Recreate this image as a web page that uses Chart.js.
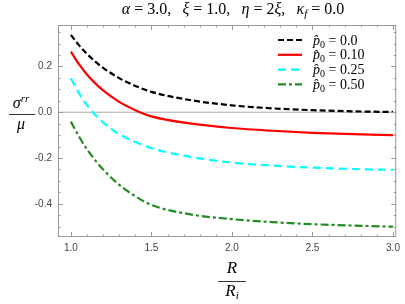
<!DOCTYPE html>
<html>
<head>
<meta charset="utf-8">
<script src="https://cdn.jsdelivr.net/npm/chart.js@4.4.1/dist/chart.umd.min.js"></script>
<style>
  body { margin: 0; background: #fff; }
  canvas { display: block; }
</style>
</head>
<body>
<canvas id="chart" width="405" height="304"></canvas>
<script>
// data
const radius = [1.0, 1.05, 1.1, 1.15, 1.2, 1.3, 1.4, 1.5, 1.75, 2.0, 2.25, 2.5, 2.75, 3.0];
const sigmaP000 = [0.338, 0.293, 0.255, 0.222, 0.194, 0.149, 0.115, 0.089, 0.052, 0.030, 0.017, 0.009, 0.004, 0.001];
const sigmaP010 = [0.265, 0.210, 0.165, 0.127, 0.095, 0.045, 0.009, -0.018, -0.050, -0.069, -0.081, -0.090, -0.096, -0.100];
const sigmaP025 = [0.148, 0.083, 0.031, -0.011, -0.045, -0.096, -0.130, -0.157, -0.196, -0.220, -0.233, -0.242, -0.248, -0.252];
const sigmaP050 = [-0.041, -0.106, -0.162, -0.209, -0.250, -0.317, -0.367, -0.405, -0.447, -0.467, -0.480, -0.489, -0.495, -0.500];
const legendValues = ['0.0', '0.10', '0.25', '0.50'];

const xTicks = [1.0, 1.5, 2.0, 2.5, 3.0];
const xTickLabels = ['1.0', '1.5', '2.0', '2.5', '3.0'];
const xMinorStep = 0.1;
const yTicks = [-0.4, -0.2, 0.0, 0.2];
const yTickLabels = ['-0.4', '-0.2', '0.0', '0.2'];
const yMinorStep = 0.05;

const SERIF = '"Liberation Serif", "DejaVu Serif", serif';

function pts(ys) {
    return radius.map((r, i) => ({ x: r, y: ys[i] }));
}

function series(label, ys, color, dash) {
    return {
        label: label,
        data: pts(ys),
        borderColor: color,
        borderWidth: 2.2,
        borderDash: dash,
        pointRadius: 0,
        fill: false,
        cubicInterpolationMode: 'monotone'
    };
}

// draw a run of text pieces with their own fonts and vertical shifts
function rich(ctx, parts, x, y, align) {
    let w = 0;
    parts.forEach(p => { ctx.font = p.f; w += ctx.measureText(p.t).width; });
    let cx = align === 'center' ? x - w / 2 : x;
    ctx.textAlign = 'left';
    ctx.textBaseline = 'alphabetic';
    parts.forEach(p => {
        ctx.font = p.f;
        ctx.fillText(p.t, cx, y + (p.dy || 0));
        cx += ctx.measureText(p.t).width;
    });
    return w;
}

const it = s => 'italic ' + s + 'px ' + SERIF;
const rm = s => s + 'px ' + SERIF;

const decor = {
    id: 'decor',
    beforeDatasetsDraw(chart) {
        const { ctx, chartArea: a, scales } = chart;
        const y0 = scales.y.getPixelForValue(0);
        ctx.save();
        ctx.strokeStyle = '#a8a8a8';
        ctx.lineWidth = 1;
        ctx.beginPath();
        ctx.moveTo(a.left, y0);
        ctx.lineTo(a.right, y0);
        ctx.stroke();
        ctx.restore();
    },
    afterDatasetsDraw(chart) {
        const { ctx, chartArea: a, scales } = chart;
        const xs = scales.x, ys = scales.y;
        ctx.save();

        // frame
        ctx.strokeStyle = '#999';
        ctx.lineWidth = 1;
        ctx.strokeRect(a.left + 0.5, a.top + 0.5, a.right - a.left - 1, a.bottom - a.top - 1);

        // inward ticks on all four sides
        ctx.beginPath();
        for (let v = 0.9; v <= xs.max + 1e-9; v += xMinorStep) {
            if (v < xs.min) continue;
            const major = xTicks.some(t => Math.abs(t - v) < 1e-6);
            const len = major ? 5 : 2.5;
            const px = Math.round(xs.getPixelForValue(v)) + 0.5;
            ctx.moveTo(px, a.bottom); ctx.lineTo(px, a.bottom - len);
            ctx.moveTo(px, a.top); ctx.lineTo(px, a.top + len);
        }
        for (let v = -0.55; v <= ys.max + 1e-9; v += yMinorStep) {
            if (v < ys.min) continue;
            const major = yTicks.some(t => Math.abs(t - v) < 1e-6);
            const len = major ? 5 : 2.5;
            const py = Math.round(ys.getPixelForValue(v)) + 0.5;
            ctx.moveTo(a.left, py); ctx.lineTo(a.left + len, py);
            ctx.moveTo(a.right, py); ctx.lineTo(a.right - len, py);
        }
        ctx.stroke();

        // legend inside the plot
        ctx.fillStyle = '#000';
        chart.data.datasets.forEach((ds, i) => {
            const yy = 40 + i * 14.8;
            ctx.strokeStyle = ds.borderColor;
            ctx.lineWidth = ds.borderWidth;
            ctx.setLineDash(ds.borderDash || []);
            ctx.beginPath();
            ctx.moveTo(278, yy);
            ctx.lineTo(302, yy);
            ctx.stroke();
            ctx.setLineDash([]);
            rich(ctx, [
                { t: 'p\u0302', f: it(14) },
                { t: '0', f: rm(10), dy: 3 },
                { t: ' = ' + legendValues[i], f: rm(14) }
            ], 313, yy + 4.5, 'left');
        });

        // title
        const sp = ',\u2002\u2009';
        rich(ctx, [
            { t: '\u03b1', f: it(16) }, { t: ' = 3.0' + sp, f: rm(16) },
            { t: '\u03be', f: it(16) }, { t: ' = 1.0' + sp, f: rm(16) },
            { t: '\u03b7', f: it(16) }, { t: ' = 2', f: rm(16) },
            { t: '\u03be', f: it(16) }, { t: sp, f: rm(16) },
            { t: '\u03ba', f: it(16) }, { t: 'f', f: it(11), dy: 3 },
            { t: ' = 0.0', f: rm(16) }
        ], 233, 13.5, 'center');

        // y label: sigma^rr over mu
        const lx = 21;
        rich(ctx, [{ t: '\u03c3', f: it(16) }, { t: 'rr', f: it(11), dy: -6 }], lx, 108, 'center');
        ctx.strokeStyle = '#000';
        ctx.lineWidth = 0.8;
        ctx.beginPath(); ctx.moveTo(9, 114.5); ctx.lineTo(35, 114.5); ctx.stroke();
        rich(ctx, [{ t: '\u03bc', f: it(16) }], lx, 129, 'center');

        // x label: R over R_i
        const bx = 232;
        rich(ctx, [{ t: 'R', f: it(17) }], bx, 273, 'center');
        ctx.beginPath(); ctx.moveTo(218, 281.5); ctx.lineTo(246, 281.5); ctx.stroke();
        rich(ctx, [{ t: 'R', f: it(17) }, { t: 'i', f: it(11), dy: 3 }], bx, 296, 'center');

        ctx.restore();
    }
};

new Chart(document.getElementById('chart'), {
    type: 'line',
    data: {
        datasets: [
            series('p0 = 0.0', sigmaP000, '#000000', [6, 3]),
            series('p0 = 0.10', sigmaP010, '#ff0000', []),
            series('p0 = 0.25', sigmaP025, '#00ffff', [8, 5]),
            series('p0 = 0.50', sigmaP050, '#228b22', [8, 3, 3, 3])
        ]
    },
    options: {
        responsive: false,
        animation: false,
        devicePixelRatio: 1,
        layout: { padding: { left: 0, right: 5, top: 25, bottom: 0 } },
        plugins: { legend: { display: false }, tooltip: { enabled: false } },
        scales: {
            x: {
                type: 'linear',
                min: 0.92,
                max: 3.02,
                afterBuildTicks: s => { s.ticks = xTicks.map(v => ({ value: v })); },
                afterFit: s => { s.height = 67; },
                grid: { display: false, drawTicks: false },
                border: { display: false },
                ticks: {
                    callback: (v, i) => xTickLabels[i],
                    font: { family: '"Liberation Sans", Arial, sans-serif', size: 10 },
                    color: '#444',
                    padding: 5,
                    maxRotation: 0
                }
            },
            y: {
                type: 'linear',
                min: -0.545,
                max: 0.381,
                afterBuildTicks: s => { s.ticks = yTicks.map(v => ({ value: v })); },
                afterFit: s => { s.width = 58; },
                grid: { display: false, drawTicks: false },
                border: { display: false },
                ticks: {
                    callback: (v, i) => yTickLabels[i],
                    font: { family: '"Liberation Sans", Arial, sans-serif', size: 10 },
                    color: '#444',
                    padding: 6
                }
            }
        }
    },
    plugins: [decor]
});
</script>
</body>
</html>
